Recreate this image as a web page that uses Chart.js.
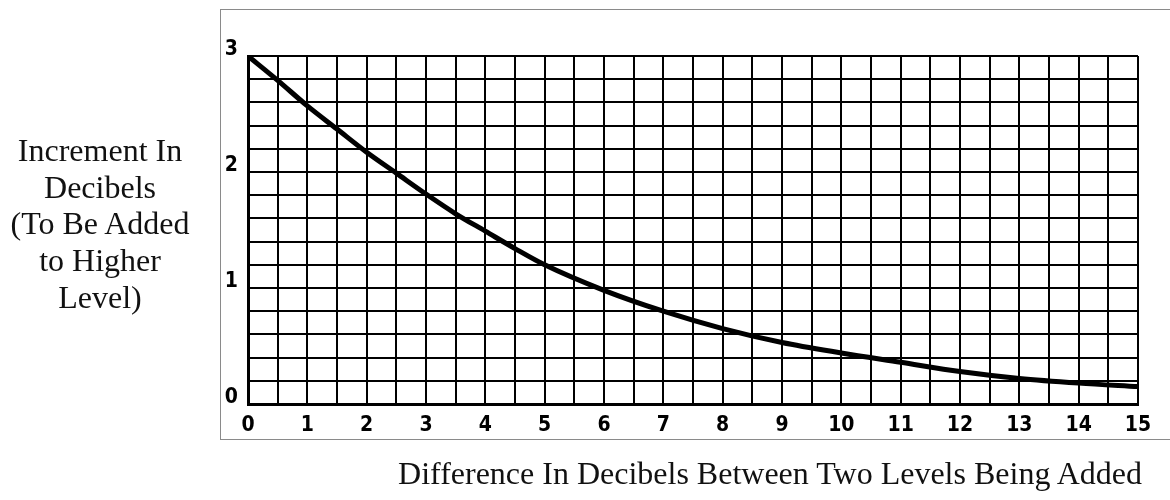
<!DOCTYPE html>
<html lang="en">
	<meta charset="UTF-8">

	<head>
		<title>Adding Decibel Levels</title>
		<script src="https://cdn.jsdelivr.net/npm/chart.js@4.4.1/dist/chart.umd.min.js"></script>
		<style type="text/css">
			body {
				margin: 0;
				background: #fff;
			}

			.wrapper {
				position: relative;
				width: 1170px;
				height: 500px;
			}

			.frame {
				position: absolute;
				left: 220px;
				top: 9px;
				width: 960px;
				height: 429px;
				border: 1px solid #8a8a8a;
				border-right: none;
			}

			.title {
				position: absolute;
				font-family: "Liberation Serif", "Times New Roman", serif;
				font-size: 32px;
				line-height: 36.7px;
				color: #111;
				text-align: center;
				white-space: nowrap;
			}

			#yTitle {
				left: 0;
				top: 132px;
				width: 200px;
			}

			#xTitle {
				left: 370px;
				top: 455px;
				width: 800px;
			}

			canvas {
				position: absolute;
				left: 0;
				top: 0;
			}
		</style>
	</head>

	<body>
		<div class="wrapper">
			<div class="frame"></div>
			<canvas id="myChart" width="1170" height="500"></canvas>
			<div class="title" id="yTitle">Increment In<br>Decibels<br>(To Be Added<br>to Higher<br>Level)</div>
			<div class="title" id="xTitle">Difference In Decibels Between Two Levels Being Added</div>
		</div>
		<script type="text/javascript">
			// difference between the two levels (dB) and the increment to add (dB)
			var diffDb = [0, 0.5, 1, 1.5, 2, 2.5, 3, 3.5, 4, 4.5, 5, 6, 7, 8, 9, 10, 11, 12, 13, 14, 15];
			var incrementDb = [3.0, 2.79, 2.57, 2.37, 2.17, 1.99, 1.81, 1.64, 1.49, 1.34, 1.20, 0.98, 0.80, 0.65, 0.53, 0.44, 0.36, 0.28, 0.22, 0.18, 0.15];

			// numbers printed along the axes
			var xTickLabels = [0, 1, 2, 3, 4, 5, 6, 7, 8, 9, 10, 11, 12, 13, 14, 15];
			var yTickLabels = [0, 1, 2, 3];

			var points = [];
			for (var i = 0; i < diffDb.length; i++) {
				points.push({ x: diffDb[i], y: incrementDb[i] });
			}

			var tickFont = { family: "'DejaVu Sans Condensed', 'DejaVu Sans', sans-serif", size: 21, weight: 'bold' };

			var ctx = document.getElementById('myChart').getContext('2d');
			var chart = new Chart(ctx, {
				type: 'line',
				data: {
					datasets: [
						{
							data: points,
							borderColor: '#000',
							borderWidth: 5,
							pointRadius: 0,
							fill: false,
							cubicInterpolationMode: 'monotone'
						}
					]
				},
				options: {
					responsive: false,
					animation: false,
					layout: {
						padding: { left: 0, top: 56, right: 32, bottom: 0 }
					},
					plugins: {
						legend: { display: false },
						tooltip: { enabled: false }
					},
					scales: {
						x: {
							type: 'linear',
							min: 0,
							max: 15,
							afterFit: function (scale) { scale.height = 96; },
							grid: { color: '#000', lineWidth: 2, drawTicks: false },
							border: { color: '#000', width: 3 },
							ticks: {
								stepSize: 0.5,
								padding: 9,
								color: '#000',
								font: tickFont,
								maxRotation: 0,
								autoSkip: false,
								callback: function (v) {
									return xTickLabels.indexOf(v) >= 0 ? String(v) : '';
								}
							}
						},
						y: {
							min: 0,
							max: 3,
							afterFit: function (scale) { scale.width = 248; },
							grid: { color: '#000', lineWidth: 2, drawTicks: false },
							border: { color: '#000', width: 3 },
							ticks: {
								stepSize: 0.2,
								padding: 10,
								color: '#000',
								font: tickFont,
								labelOffset: -6,
								autoSkip: false,
								callback: function (v) {
									var r = Math.round(v * 10) / 10;
									return yTickLabels.indexOf(r) >= 0 ? String(r) : '';
								}
							}
						}
					}
				}
			});
		</script>
	</body>
</html>
